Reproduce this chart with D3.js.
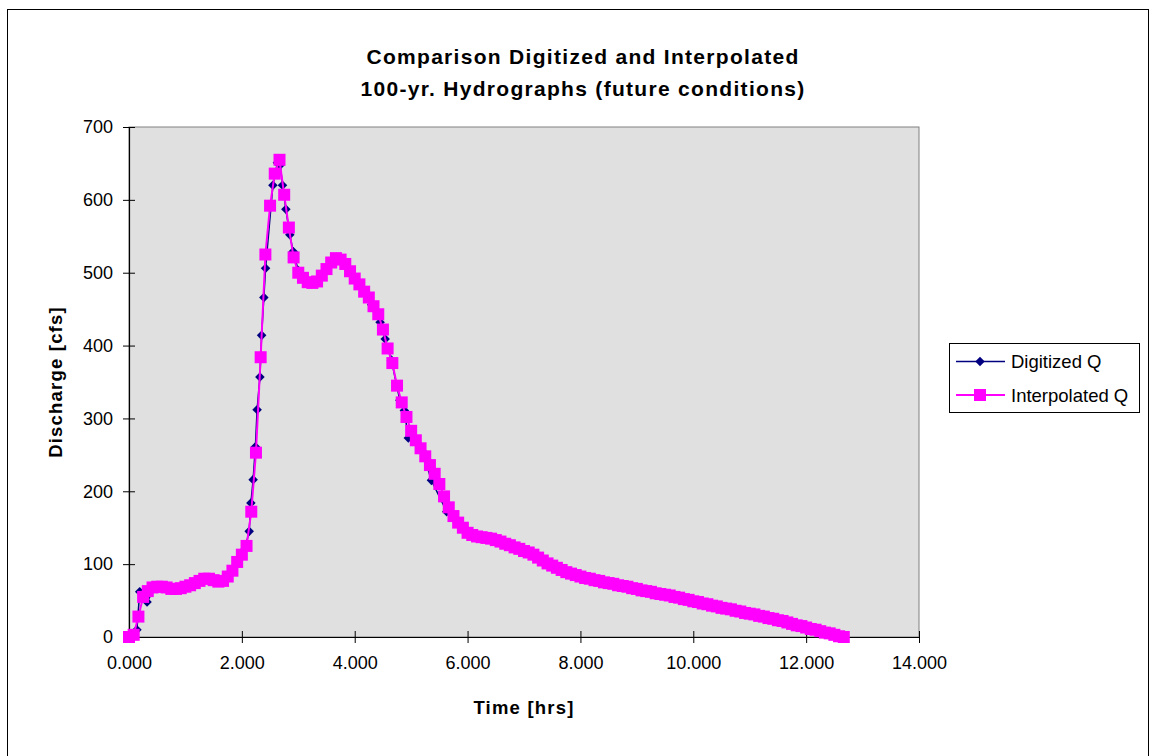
<!DOCTYPE html>
<html>
<head>
<meta charset="utf-8">
<script src="https://cdn.jsdelivr.net/npm/d3@7"></script>
<style>
  html, body { margin: 0; padding: 0; background: #ffffff; }
  svg { display: block; font-family: "Liberation Sans", Arial, sans-serif; }
</style>
</head>
<body>
<svg id="chart" width="1150" height="756"></svg>
<script>
// ---- Data ----
const titleLines = ["Comparison Digitized and Interpolated", "100-yr. Hydrographs (future conditions)"];
const xAxisTitle = "Time [hrs]";
const yAxisTitle = "Discharge [cfs]";
const seriesNames = ["Digitized Q", "Interpolated Q"];
const xTicks = [0, 2, 4, 6, 8, 10, 12, 14];
const yTicks = [0, 100, 200, 300, 400, 500, 600, 700];

const digitizedTime = [0.00, 0.14, 0.19, 0.32, 0.45, 0.62, 0.85, 1.05, 1.30, 1.50, 1.65, 1.80, 1.95, 2.05, 2.13, 2.16, 2.20, 2.24, 2.27, 2.32, 2.35, 2.39, 2.42, 2.55, 2.63, 2.68, 2.72, 2.78, 2.85, 2.91, 3.00, 3.20, 3.45, 3.68, 3.90, 4.10, 4.30, 4.45, 4.54, 4.65, 4.80, 4.88, 4.95, 5.20, 5.36, 5.63, 5.85, 6.05, 6.50, 7.00, 7.50, 8.00, 8.60, 9.20, 9.80, 10.40, 11.00, 11.60, 12.20, 12.67];
const digitizedQ    = [0, 10, 62, 48, 67, 68, 66, 70, 79, 78, 77, 88, 108, 120, 145, 184, 216, 261, 312, 357, 414, 466, 506, 620, 651, 648, 620, 587, 552, 529, 503, 487, 500, 521, 503, 482, 456, 432, 409, 380, 325, 311, 273, 255, 215, 172, 155, 141, 133, 118, 98, 83, 72, 62, 53, 42, 32, 22, 9, 0];

const interpTime = [0.000, 0.083, 0.167, 0.250, 0.333, 0.417, 0.500, 0.583, 0.667, 0.750, 0.833, 0.917, 1.000, 1.083, 1.167, 1.250, 1.333, 1.417, 1.500, 1.583, 1.667, 1.750, 1.833, 1.917, 2.000, 2.083, 2.167, 2.250, 2.333, 2.417, 2.500, 2.583, 2.667, 2.750, 2.833, 2.917, 3.000, 3.083, 3.167, 3.250, 3.333, 3.417, 3.500, 3.583, 3.667, 3.750, 3.833, 3.917, 4.000, 4.083, 4.167, 4.250, 4.333, 4.417, 4.500, 4.583, 4.667, 4.750, 4.833, 4.917, 5.000, 5.083, 5.167, 5.250, 5.333, 5.417, 5.500, 5.583, 5.667, 5.750, 5.833, 5.917, 6.000, 6.083, 6.167, 6.250, 6.333, 6.417, 6.500, 6.583, 6.667, 6.750, 6.833, 6.917, 7.000, 7.083, 7.167, 7.250, 7.333, 7.417, 7.500, 7.583, 7.667, 7.750, 7.833, 7.917, 8.000, 8.083, 8.167, 8.250, 8.333, 8.417, 8.500, 8.583, 8.667, 8.750, 8.833, 8.917, 9.000, 9.083, 9.167, 9.250, 9.333, 9.417, 9.500, 9.583, 9.667, 9.750, 9.833, 9.917, 10.000, 10.083, 10.167, 10.250, 10.333, 10.417, 10.500, 10.583, 10.667, 10.750, 10.833, 10.917, 11.000, 11.083, 11.167, 11.250, 11.333, 11.417, 11.500, 11.583, 11.667, 11.750, 11.833, 11.917, 12.000, 12.083, 12.167, 12.250, 12.333, 12.417, 12.500, 12.583, 12.667];
const interpQ = [0, 3, 28, 55, 63, 68, 69, 69, 68, 66, 66, 67, 69, 71, 74, 77, 80, 80, 78, 76, 77, 83, 91, 103, 113, 125, 172, 253, 384, 525, 592, 636, 655, 607, 562, 521, 500, 493, 487, 486, 488, 496, 505, 514, 520, 518, 512, 502, 492, 484, 474, 466, 454, 443, 422, 396, 376, 345, 322, 302, 283, 270, 259, 248, 236, 224, 210, 193, 178, 166, 157, 150, 143, 140, 138, 137, 136, 135, 133, 131, 128, 126, 123, 121, 118, 116, 113, 109, 105, 101, 98, 95, 92, 89, 87, 85, 83, 81, 80, 78, 77, 75, 74, 73, 71, 70, 69, 67, 66, 64, 63, 62, 60, 59, 58, 57, 55, 54, 52, 51, 49, 48, 46, 45, 43, 42, 40, 39, 38, 36, 35, 33, 32, 31, 29, 28, 26, 25, 23, 22, 20, 18, 16, 15, 13, 11, 10, 8, 6, 5, 3, 1, 0];

// ---- Layout ----
const svg = d3.select("#chart");
const plot = { left: 129, top: 127, right: 919, bottom: 637 };
const FONT = "'Liberation Sans', Arial, sans-serif";
const navy = "#000080", magenta = "#ff00ff";

// outer chart border
svg.append("rect").attr("x", 7.5).attr("y", 9.5).attr("width", 1141).attr("height", 780)
  .attr("fill", "#ffffff").attr("stroke", "#000000").attr("stroke-width", 1);

const x = d3.scaleLinear().domain([0, 14]).range([plot.left, plot.right]);
const y = d3.scaleLinear().domain([0, 700]).range([plot.bottom, plot.top]);

// plot background
svg.append("rect").attr("x", plot.left).attr("y", plot.top)
  .attr("width", plot.right - plot.left).attr("height", plot.bottom - plot.top)
  .attr("fill", "#e0e0e0").attr("stroke", "#808080").attr("stroke-width", 1);

// axes
const xAxis = d3.axisBottom(x).tickValues(xTicks).tickFormat(d3.format(".3f")).tickSizeInner(6).tickSizeOuter(0).tickPadding(12);
const gx = svg.append("g").attr("transform", `translate(0,${plot.bottom})`).call(xAxis);
gx.select(".domain").attr("stroke", "#000").attr("stroke-width", 1.2);
gx.selectAll(".tick line").attr("y1", -6).attr("y2", 6).attr("stroke", "#000");
gx.selectAll(".tick text").attr("font-size", 18).attr("font-family", FONT).attr("fill", "#000").attr("dy", "0.75em");

const yAxis = d3.axisLeft(y).tickValues(yTicks).tickFormat(d3.format("d")).tickSizeInner(6).tickSizeOuter(0).tickPadding(10);
const gy = svg.append("g").attr("transform", `translate(${plot.left},0)`).call(yAxis);
gy.select(".domain").attr("stroke", "#000").attr("stroke-width", 1.2);
gy.selectAll(".tick line").attr("x1", -6).attr("x2", 6).attr("stroke", "#000");
gy.selectAll(".tick text").attr("font-size", 18).attr("font-family", FONT).attr("fill", "#000");

// series
const digData = digitizedTime.map((t, i) => ({ t, q: digitizedQ[i] }));
const intData = interpTime.map((t, i) => ({ t, q: interpQ[i] }));
const line = d3.line().x(d => x(d.t)).y(d => y(d.q));

svg.append("path").datum(digData).attr("d", line)
  .attr("fill", "none").attr("stroke", navy).attr("stroke-width", 1.5);
const diamond = d3.symbol().type(d3.symbolDiamond2).size(58);
svg.append("g").selectAll("path").data(digData).join("path")
  .attr("transform", d => `translate(${x(d.t)},${y(d.q)})`)
  .attr("d", diamond).attr("fill", navy);

svg.append("path").datum(intData).attr("d", line)
  .attr("fill", "none").attr("stroke", magenta).attr("stroke-width", 2);
svg.append("g").selectAll("rect").data(intData).join("rect")
  .attr("x", d => x(d.t) - 6).attr("y", d => y(d.q) - 6)
  .attr("width", 12).attr("height", 12).attr("fill", magenta);

// title
svg.append("text").attr("text-anchor", "middle")
  .attr("font-family", FONT).attr("font-weight", "bold").attr("font-size", 21)
  .attr("letter-spacing", 1.3)
  .selectAll("tspan").data(titleLines).join("tspan")
  .attr("x", 583).attr("y", (d, i) => 64 + i * 32).text(d => d);

// axis titles
svg.append("text").attr("x", (plot.left + plot.right) / 2).attr("y", 714)
  .attr("text-anchor", "middle").attr("font-family", FONT).attr("font-weight", "bold")
  .attr("font-size", 18.5).attr("letter-spacing", 1.2).text(xAxisTitle);
svg.append("text").attr("transform", `translate(62,${(plot.top + plot.bottom) / 2}) rotate(-90)`)
  .attr("text-anchor", "middle").attr("font-family", FONT).attr("font-weight", "bold")
  .attr("font-size", 18.5).attr("letter-spacing", 1.2).text(yAxisTitle);

// legend
const lg = svg.append("g");
lg.append("rect").attr("x", 949.5).attr("y", 343.5).attr("width", 190).attr("height", 69)
  .attr("fill", "#ffffff").attr("stroke", "#000").attr("stroke-width", 1);
const legendItems = [
  { name: seriesNames[0], color: navy, kind: "diamond", yy: 361.5 },
  { name: seriesNames[1], color: magenta, kind: "square", yy: 395 }
];
legendItems.forEach(it => {
  lg.append("line").attr("x1", 956).attr("x2", 1005).attr("y1", it.yy).attr("y2", it.yy)
    .attr("stroke", it.color).attr("stroke-width", it.kind === "square" ? 2 : 1.5);
  if (it.kind === "diamond") {
    lg.append("path").attr("transform", `translate(980,${it.yy})`).attr("d", diamond).attr("fill", it.color);
  } else {
    lg.append("rect").attr("x", 974).attr("y", it.yy - 6).attr("width", 12).attr("height", 12).attr("fill", it.color);
  }
  lg.append("text").attr("x", 1011).attr("y", it.yy + 6.5).attr("font-family", FONT)
    .attr("font-size", 18.5).attr("fill", "#000").text(it.name);
});
</script>
</body>
</html>
